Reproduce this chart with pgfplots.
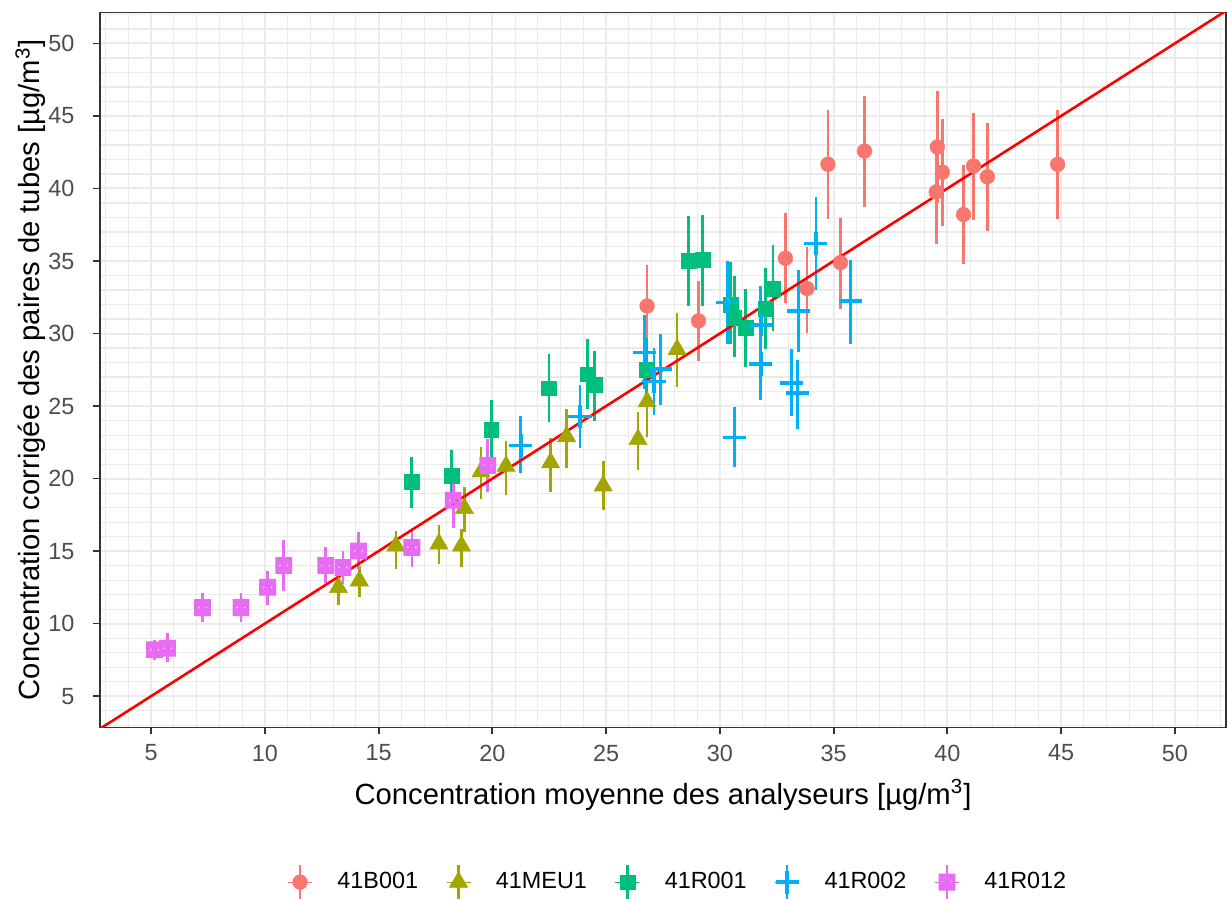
\documentclass[border=0pt]{standalone}
\usepackage{fontspec}
\setmainfont{Liberation Sans}
\usepackage{pgfplots}
\pgfplotsset{compat=1.18}
\usepackage{pgfplotstable}
\definecolor{cB}{HTML}{F8766D}
\definecolor{cM}{HTML}{A3A500}
\definecolor{cRa}{HTML}{00BF7D}
\definecolor{cRb}{HTML}{00B0F6}
\definecolor{cRc}{HTML}{E76BF3}
\definecolor{gridc}{HTML}{EBEBEB}
\definecolor{tickc}{HTML}{4D4D4D}
\definecolor{axc}{HTML}{333333}

\pgfdeclareplotmark{sqx}{%
  \pgfpathrectangle{\pgfqpoint{-\pgfplotmarksize}{-\pgfplotmarksize}}{\pgfqpoint{2\pgfplotmarksize}{2\pgfplotmarksize}}%
  \pgfpathmoveto{\pgfqpoint{-\pgfplotmarksize}{-\pgfplotmarksize}}%
  \pgfpathlineto{\pgfqpoint{\pgfplotmarksize}{\pgfplotmarksize}}%
  \pgfpathmoveto{\pgfqpoint{-\pgfplotmarksize}{\pgfplotmarksize}}%
  \pgfpathlineto{\pgfqpoint{\pgfplotmarksize}{-\pgfplotmarksize}}%
  \pgfusepathqstroke}

\pgfplotsset{
  pr legend/.style={legend image code/.code={%
    \draw[line width=1.35pt, #1] (0pt,-8.5pt) -- (0pt,8.5pt);
    \draw[##1] plot coordinates {(0pt,0pt)};
    \path (-6pt,0pt) -- (6pt,0pt);}},
  pr errors/.style={error bars/.cd, y dir=both, y explicit, error mark=none,
    error bar style={line width=1.35pt, #1}},
}

\pgfplotstableread{
x y lo hi
26.80 31.90 28.10 34.70
29.06 30.87 28.10 33.60
32.88 35.19 32.10 38.30
33.83 33.10 30.06 36.00
34.75 41.67 37.90 45.40
35.30 34.89 31.70 38.00
36.36 42.58 38.70 46.40
39.56 42.86 39.00 46.70
39.78 41.13 37.40 44.80
39.51 39.76 36.20 43.30
40.71 38.20 34.80 41.60
41.15 41.55 37.80 45.20
41.76 40.81 37.10 44.50
44.85 41.67 37.90 45.40
}\tabB

\pgfplotstableread{
x y lo hi
13.23 12.50 11.30 13.60
14.15 12.95 11.80 14.00
15.76 15.36 13.75 16.40
17.65 15.50 14.10 16.80
18.64 15.36 13.90 16.50
18.77 17.95 16.30 19.40
19.50 20.47 18.57 22.15
20.60 20.86 18.90 22.60
22.56 21.10 19.10 22.80
23.26 22.90 20.76 24.80
24.87 19.50 17.80 21.20
26.40 22.70 20.60 24.60
26.80 25.30 22.90 27.30
28.12 28.90 26.30 31.40
}\tabM

\pgfplotstableread{
x y lo hi
16.44 19.77 18.00 21.50
18.20 20.18 18.40 22.00
19.95 23.35 21.30 25.40
22.49 26.23 23.90 28.60
24.18 27.20 24.80 29.60
24.50 26.45 24.00 28.80
26.78 27.48 25.30 29.70
28.62 35.00 31.90 38.10
29.25 35.07 31.90 38.20
30.46 32.00 29.30 34.90
30.63 31.10 28.40 34.00
31.14 30.40 27.70 33.10
32.02 31.70 28.90 34.50
32.33 33.10 30.20 36.10
}\tabRa

\pgfplotstableread{
x y lo hi
21.25 22.30 20.35 24.30
23.85 24.27 22.10 26.45
26.70 28.70 26.20 31.30
27.10 26.70 24.40 29.00
27.40 27.55 25.10 30.00
30.35 32.15 29.30 35.00
30.65 22.85 20.80 24.90
31.80 30.60 27.90 33.30
31.80 27.90 25.40 30.30
33.45 31.55 28.70 34.40
33.15 26.60 24.30 28.90
33.42 25.90 23.40 28.20
34.22 36.20 33.00 39.40
35.75 32.25 29.30 35.10
}\tabRb

\pgfplotstableread{
x y lo hi
5.15 8.20 7.50 8.90
5.72 8.30 7.35 9.35
7.26 11.10 10.10 12.10
8.95 11.10 10.10 12.10
10.12 12.50 11.30 13.60
10.83 14.00 12.26 15.75
12.67 14.00 12.80 15.30
13.43 13.87 12.70 15.00
14.11 15.00 13.75 16.30
16.46 15.25 13.90 16.60
18.28 18.50 16.60 20.20
19.80 20.90 19.10 22.70
}\tabRc

\begin{document}
\begin{tikzpicture}
\path[use as bounding box] (-50pt,-85.85pt) rectangle (563.5pt,363.65pt);
\begin{axis}[
  at={(0,0)}, anchor=south west,
  width=563pt, height=357.5pt, scale only axis,
  xmin=2.75, xmax=52.25, ymin=2.85, ymax=52.15,
  xtick={5,10,...,50}, ytick={5,10,...,50},
  minor xtick={3,4,...,52}, minor ytick={3,4,...,52},
  grid=both,
  major grid style={draw=gridc, line width=1pt},
  minor grid style={draw=gridc, line width=0.55pt},
  tick align=outside, major tick length=3.6pt, minor tick length=0pt,
  xtick pos=bottom, ytick pos=left,
  every tick/.style={draw=axc, line width=0.9pt},
  axis line style={draw=axc, line width=0.7pt},
  /pgf/number format/assume math mode=true,
  ticklabel style={font=\fontsize{11.7}{14}\selectfont, text=tickc},
  xticklabel style={anchor=north, inner sep=0pt, yshift=-4.9pt},
  yticklabel style={anchor=east, inner sep=0pt, xshift=-9pt},
  every axis x label/.style={at={(axis description cs:0.5,-0.1078)}, anchor=base, font=\fontsize{14.6}{17}\selectfont},
  every axis y label/.style={at={(axis description cs:-0.0533,0.5)}, rotate=90, anchor=base, font=\fontsize{14.6}{17}\selectfont},
  xlabel={Concentration moyenne des analyseurs [µg/m\textsuperscript{3}]},
  ylabel={Concentration corrigée des paires de tubes [µg/m\textsuperscript{3}]},
  legend columns=-1,
  legend style={at={(axis description cs:0.5124,-0.2165)}, anchor=center, draw=none, fill=none,
    font=\fontsize{11.7}{14}\selectfont, nodes={inner sep=0pt},
    /tikz/every odd column/.append style={column sep=12.5pt},
    /tikz/every even column/.append style={column sep=14pt}},
]
\addplot[only marks, mark=*, mark size=3.7pt, color=cB, mark options={fill=cB, draw=cB, line width=0.2pt},
  pr legend=cB, pr errors=cB]
  table[x=x, y=y, y error plus expr=\thisrow{hi}-\thisrow{y}, y error minus expr=\thisrow{y}-\thisrow{lo}] \tabB;
\addlegendentry{41B001}
\addplot[only marks, mark=triangle*, mark size=5.3pt, color=cM, mark options={fill=cM, draw=cM, line width=0.2pt},
  pr legend=cM, pr errors=cM]
  table[x=x, y=y, y error plus expr=\thisrow{hi}-\thisrow{y}, y error minus expr=\thisrow{y}-\thisrow{lo}] \tabM;
\addlegendentry{41MEU1}
\addplot[only marks, mark=square*, mark size=3.7pt, color=cRa, mark options={fill=cRa, draw=cRa, line width=0.2pt},
  pr legend=cRa, pr errors=cRa]
  table[x=x, y=y, y error plus expr=\thisrow{hi}-\thisrow{y}, y error minus expr=\thisrow{y}-\thisrow{lo}] \tabRa;
\addlegendentry{41R001}
\addplot[only marks, mark=+, mark size=5.8pt, color=cRb, mark options={draw=cRb, line width=1.7pt},
  pr legend=cRb, pr errors=cRb]
  table[x=x, y=y, y error plus expr=\thisrow{hi}-\thisrow{y}, y error minus expr=\thisrow{y}-\thisrow{lo}] \tabRb;
\addlegendentry{41R002}
\addplot[only marks, mark=sqx, mark size=3.2pt, color=cRc, mark options={draw=cRc, line width=2pt},
  pr legend=cRc, pr errors=cRc]
  table[x=x, y=y, y error plus expr=\thisrow{hi}-\thisrow{y}, y error minus expr=\thisrow{y}-\thisrow{lo}] \tabRc;
\addlegendentry{41R012}
\addplot[red, line width=1.3pt, no markers, forget plot] coordinates {(2.75,2.75) (52.25,52.25)};
\end{axis}
\end{tikzpicture}
\end{document}
